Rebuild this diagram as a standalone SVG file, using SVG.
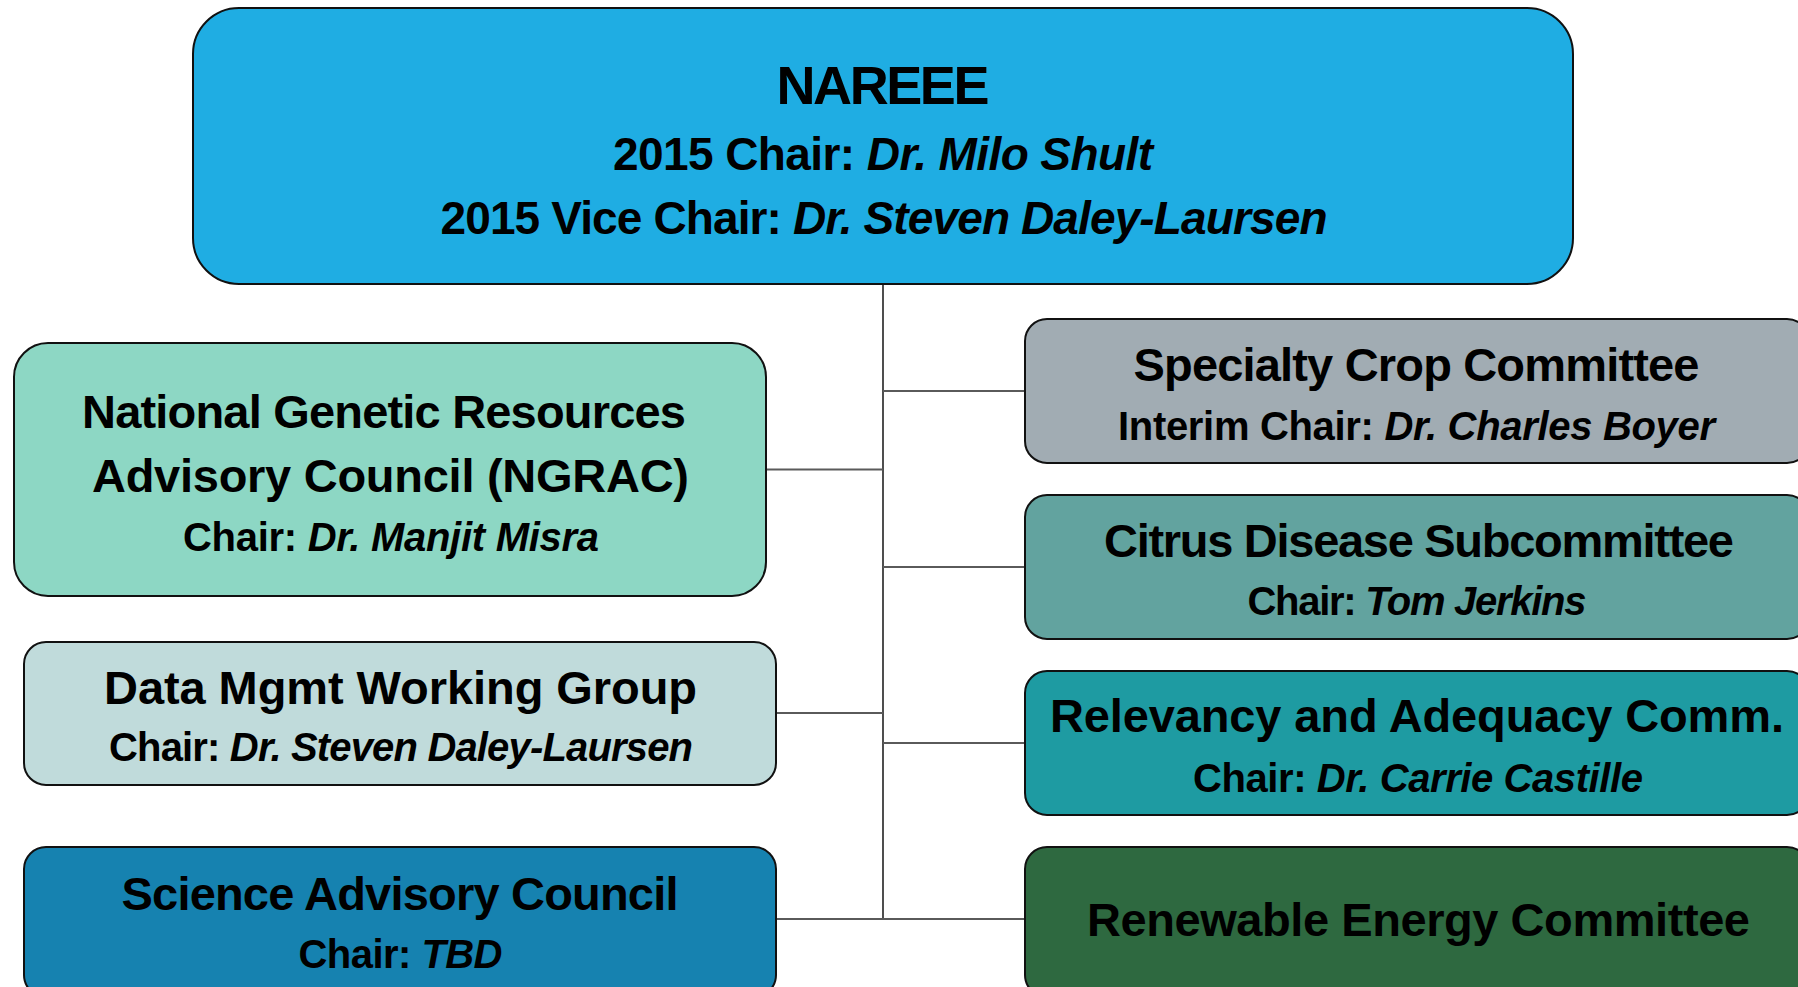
<svg xmlns="http://www.w3.org/2000/svg" width="1798" height="987" viewBox="0 0 1798 987">
<style>
  .box { stroke: #111; stroke-width: 2; }
  .t { font-family: "Liberation Sans", Arial, sans-serif; font-weight: bold; fill: #000; }
  .h { font-size: 47px; }
  .s { font-size: 40px; }
  .i { font-style: italic; }
  .conn line { stroke: #5a5a5a; stroke-width: 2.2; }
  .conn line.v { stroke: #222; stroke-width: 1.6; }
</style>
<rect x="0" y="0" width="1798" height="987" fill="#ffffff"/>
<g class="conn" id="connectors">
  <line class="v" x1="883" y1="284" x2="883" y2="919"/>
  <line x1="766" y1="469.5" x2="883" y2="469.5"/>
  <line x1="776" y1="713" x2="883" y2="713"/>
  <line x1="776" y1="919" x2="883" y2="919"/>
  <line x1="883" y1="391" x2="1025" y2="391"/>
  <line x1="883" y1="567" x2="1025" y2="567"/>
  <line x1="883" y1="743" x2="1025" y2="743"/>
  <line x1="883" y1="919" x2="1025" y2="919"/>
</g>
<g id="nareee">
  <rect class="box" x="193" y="8" width="1380" height="276" rx="46" ry="46" fill="#1fade3"/>
  <text class="t" x="776.5" y="104" font-size="54" textLength="213">NAREEE</text>
  <text class="t" x="613" y="170" font-size="46" textLength="540">2015 Chair: <tspan class="i">Dr. Milo Shult</tspan></text>
  <text class="t" x="440.5" y="234" font-size="46" textLength="887">2015 Vice Chair: <tspan class="i">Dr. Steven Daley-Laursen</tspan></text>
</g>
<g id="ngrac">
  <rect class="box" x="14" y="343" width="752" height="253" rx="34" ry="34" fill="#8dd7c4"/>
  <text class="t h" x="82" y="428" textLength="604">National Genetic Resources</text>
  <text class="t h" x="92" y="491.5" textLength="597">Advisory Council (NGRAC)</text>
  <text class="t s" x="183" y="551" textLength="416">Chair: <tspan class="i">Dr. Manjit Misra</tspan></text>
</g>
<g id="datamgmt">
  <rect class="box" x="24" y="642" width="752" height="143" rx="22" ry="22" fill="#c0dbdb"/>
  <text class="t h" x="104" y="703.5" textLength="593">Data Mgmt Working Group</text>
  <text class="t s" x="109" y="761" textLength="584">Chair: <tspan class="i">Dr. Steven Daley-Laursen</tspan></text>
</g>
<g id="science">
  <rect class="box" x="24" y="847" width="752" height="150" rx="22" ry="22" fill="#1682b0"/>
  <text class="t h" x="121.5" y="910" textLength="557">Science Advisory Council</text>
  <text class="t s" x="298.5" y="967.5" textLength="204">Chair: <tspan class="i">TBD</tspan></text>
</g>
<g id="specialty">
  <rect class="box" x="1025" y="319" width="784" height="144" rx="22" ry="22" fill="#a1acb3"/>
  <text class="t h" x="1133.5" y="380.5" textLength="566">Specialty Crop Committee</text>
  <text class="t s" x="1118" y="439.5" textLength="597">Interim Chair: <tspan class="i">Dr. Charles Boyer</tspan></text>
</g>
<g id="citrus">
  <rect class="box" x="1025" y="495" width="784" height="144" rx="22" ry="22" fill="#62a39f"/>
  <text class="t h" x="1104" y="556.5" textLength="630">Citrus Disease Subcommittee</text>
  <text class="t s" x="1247.5" y="614.5" textLength="339">Chair: <tspan class="i">Tom Jerkins</tspan></text>
</g>
<g id="relevancy">
  <rect class="box" x="1025" y="671" width="784" height="144" rx="22" ry="22" fill="#1e9ba2"/>
  <text class="t h" x="1050" y="732" textLength="734">Relevancy and Adequacy Comm.</text>
  <text class="t s" x="1193" y="791.5" textLength="450">Chair: <tspan class="i">Dr. Carrie Castille</tspan></text>
</g>
<g id="renewable">
  <rect class="box" x="1025" y="847" width="784" height="150" rx="22" ry="22" fill="#2e6940"/>
  <text class="t h" x="1087" y="935.5" textLength="663">Renewable Energy Committee</text>
</g>
</svg>
